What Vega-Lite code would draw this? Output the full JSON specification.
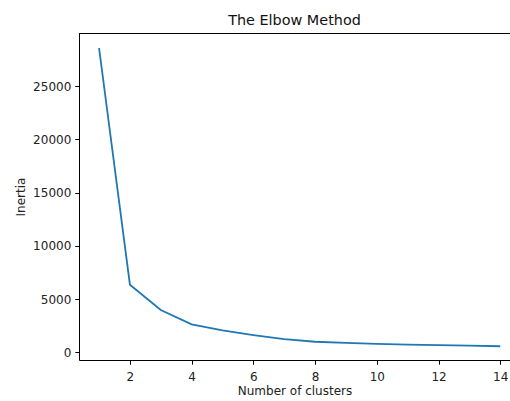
{
  "$schema": "https://vega.github.io/schema/vega-lite/v6.json",
  "autosize": "none",
  "padding": {"left": 79, "top": 33, "right": 0, "bottom": 41},
  "width": 431,
  "height": 327,
  "background": "white",
  "title": {"text": "The Elbow Method", "font": "DejaVu Sans", "fontSize": 14.4, "fontWeight": "normal", "color": "#111", "offset": 5, "anchor": "middle"},
  "config": {
    "view": {"stroke": null},
    "axis": {
      "grid": false,
      "domainColor": "#000",
      "domainWidth": 1,
      "tickColor": "#000",
      "tickWidth": 1,
      "tickSize": 4.2,
      "labelFont": "DejaVu Sans",
      "labelFontSize": 12,
      "labelColor": "#222",
      "titleFont": "DejaVu Sans",
      "titleFontSize": 12,
      "titleFontWeight": "normal",
      "titleColor": "#222"
    }
  },
  "data": {"values": [
    {"k": 1, "inertia": 28600},
    {"k": 2, "inertia": 6350},
    {"k": 3, "inertia": 3980},
    {"k": 4, "inertia": 2630},
    {"k": 5, "inertia": 2050},
    {"k": 6, "inertia": 1620},
    {"k": 7, "inertia": 1240},
    {"k": 8, "inertia": 990},
    {"k": 9, "inertia": 880},
    {"k": 10, "inertia": 790},
    {"k": 11, "inertia": 730},
    {"k": 12, "inertia": 670},
    {"k": 13, "inertia": 620},
    {"k": 14, "inertia": 570}
  ]},
  "layer": [
    {
      "mark": {"type": "line", "color": "#1f77b4", "strokeWidth": 1.8, "clip": true},
      "encoding": {
        "x": {"field": "k", "type": "quantitative", "title": "Number of clusters",
          "scale": {"domain": [0.35, 14.316], "nice": false, "zero": false},
          "axis": {"values": [2, 4, 6, 8, 10, 12, 14], "format": "d", "labelPadding": 7, "titlePadding": 3, "labelFlush": false}},
        "y": {"field": "inertia", "type": "quantitative", "title": "Inertia",
          "scale": {"domain": [-724, 30009], "nice": false, "zero": false},
          "axis": {"values": [0, 5000, 10000, 15000, 20000, 25000], "format": "d", "labelPadding": 4, "titlePadding": 5, "labelFlush": false}}
      }
    },
    {
      "mark": {"type": "rule", "color": "#000", "strokeWidth": 1},
      "encoding": {"y": {"datum": 29962}}
    }
  ]
}
